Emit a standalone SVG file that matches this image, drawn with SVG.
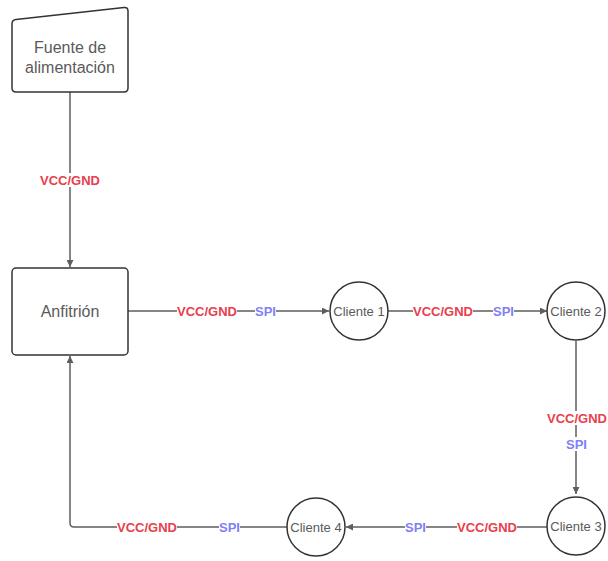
<svg xmlns="http://www.w3.org/2000/svg" width="608" height="561" viewBox="0 0 608 561">
<defs>
<style>
.node{fill:#fff;stroke:#333;stroke-width:1.5}
.nt{font-family:"Liberation Sans",Arial,sans-serif;font-size:16px;fill:#5a5a5a;text-anchor:middle}
.ct{font-family:"Liberation Sans",Arial,sans-serif;font-size:13px;fill:#5a5a5a;text-anchor:middle}
.edge{fill:none;stroke:#5e5e5e;stroke-width:1.5}
.lbl{font-family:"Liberation Sans",Arial,sans-serif;font-size:13px;font-weight:bold;text-anchor:middle}
.pw{fill:#e8404c}
.spi{fill:#7f7ff5}
.bg{fill:#fff}
</style>
<marker id="arr" viewBox="0 0 10 10" refX="10" refY="5" markerWidth="7" markerHeight="7" orient="auto" markerUnits="userSpaceOnUse">
<path d="M0,0 L10,5 L0,10 z" fill="#5e5e5e"/>
</marker>
</defs>
<rect width="608" height="561" fill="#fff"/>
<g id="connectors">
<path class="edge" d="M70,92 V267" marker-end="url(#arr)"/>
<path class="edge" d="M128,311 H329" marker-end="url(#arr)"/>
<path class="edge" d="M388,311 H547" marker-end="url(#arr)"/>
<path class="edge" d="M576,341 V494" marker-end="url(#arr)"/>
<path class="edge" d="M547,527 H346" marker-end="url(#arr)"/>
<path class="edge" d="M287,527 H74 Q70,527 70,523 V356" marker-end="url(#arr)"/>
<g id="labels">
<rect class="bg" x="39" y="173" width="62" height="14"/>
<text class="lbl pw" x="70" y="184.5">VCC/GND</text>
<rect class="bg" x="177" y="304" width="60" height="14"/>
<text class="lbl pw" x="207" y="315.5">VCC/GND</text>
<rect class="bg" x="255" y="304" width="21" height="14"/>
<text class="lbl spi" x="265.5" y="315.5">SPI</text>
<rect class="bg" x="413" y="304" width="60" height="14"/>
<text class="lbl pw" x="443" y="315.5">VCC/GND</text>
<rect class="bg" x="493" y="304" width="21" height="14"/>
<text class="lbl spi" x="503.5" y="315.5">SPI</text>
<rect class="bg" x="546" y="411" width="62" height="14"/>
<text class="lbl pw" x="577" y="422.5">VCC/GND</text>
<rect class="bg" x="566" y="437" width="21" height="14"/>
<text class="lbl spi" x="576.5" y="448.5">SPI</text>
<rect class="bg" x="457" y="520" width="60" height="14"/>
<text class="lbl pw" x="487" y="531.5">VCC/GND</text>
<rect class="bg" x="405" y="520" width="21" height="14"/>
<text class="lbl spi" x="415.5" y="531.5">SPI</text>
<rect class="bg" x="117" y="520" width="60" height="14"/>
<text class="lbl pw" x="147" y="531.5">VCC/GND</text>
<rect class="bg" x="219" y="520" width="21" height="14"/>
<text class="lbl spi" x="229.5" y="531.5">SPI</text>
</g>
</g>
<g id="fuente">
<path class="node" d="M16,19.6 L124,7.5 Q128,7 128,11 V88 Q128,92 124,92 H16 Q12,92 12,88 V24 Q12,20 16,19.6 z"/>
<text class="nt" x="70" y="53">Fuente de</text>
<text class="nt" x="70" y="73">alimentación</text>
</g>
<g id="anfitrion">
<rect class="node" x="12" y="268" width="116" height="87" rx="4"/>
<text class="nt" x="70" y="317">Anfitrión</text>
</g>
<g id="cliente1">
<circle class="node" cx="359" cy="311" r="29"/>
<text class="ct" x="359" y="315.5">Cliente 1</text>
</g>
<g id="cliente2">
<circle class="node" cx="576" cy="311" r="29"/>
<text class="ct" x="576" y="315.5">Cliente 2</text>
</g>
<g id="cliente3">
<circle class="node" cx="576" cy="526" r="29"/>
<text class="ct" x="576" y="530.5">Cliente 3</text>
</g>
<g id="cliente4">
<circle class="node" cx="316" cy="527" r="29"/>
<text class="ct" x="316" y="531.5">Cliente 4</text>
</g>
</svg>
